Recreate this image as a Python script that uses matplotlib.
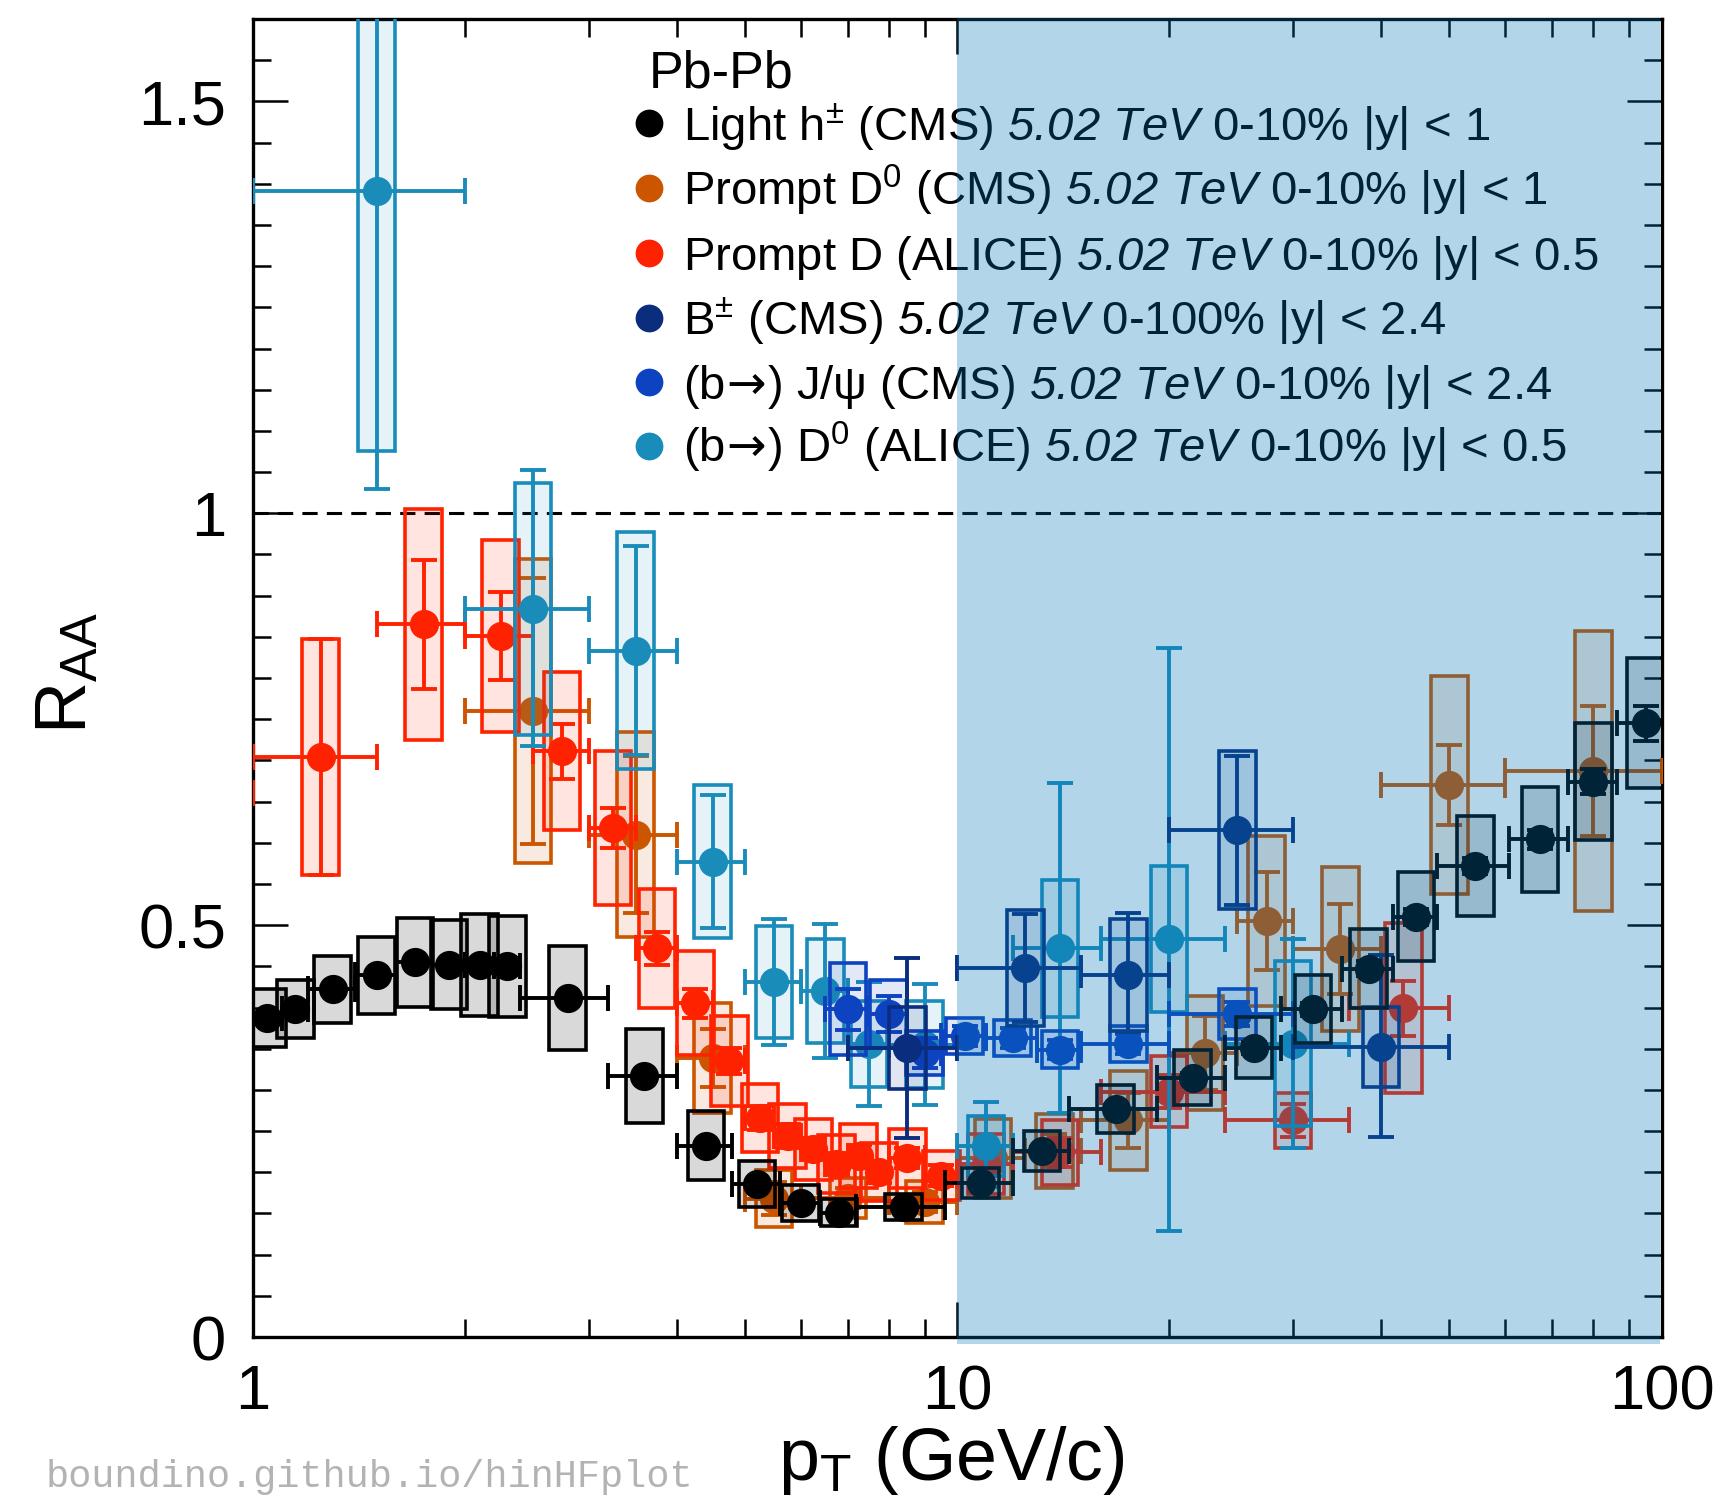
import numpy as np
import matplotlib
matplotlib.use("Agg")
import matplotlib.pyplot as plt
from matplotlib.patches import Rectangle
from matplotlib.colors import to_rgba
from matplotlib.ticker import FixedLocator, FixedFormatter, NullFormatter, MultipleLocator

plt.rcParams['font.family'] = ['Liberation Sans', 'DejaVu Sans']
plt.rcParams['mathtext.fontset'] = 'custom'
plt.rcParams['mathtext.rm'] = 'Liberation Sans'
plt.rcParams['mathtext.it'] = 'Liberation Sans:italic'
plt.rcParams['mathtext.sf'] = 'Liberation Sans:italic'
plt.rcParams['mathtext.bf'] = 'DejaVu Sans'  # only used for the arrow glyph

# Light h+- (CMS) 0-10%
h_edges = [1.0, 1.1, 1.2, 1.4, 1.6, 1.8, 2.0, 2.2, 2.4, 3.2, 4.0, 4.8, 5.6, 6.4, 7.2, 9.6,
           12.0, 14.4, 19.2, 24.0, 28.8, 35.2, 41.6, 48.0, 60.8, 73.6, 86.4, 103.6]
h_raa = [0.387, 0.398, 0.422, 0.439, 0.455, 0.452, 0.452, 0.450, 0.412, 0.317, 0.232, 0.186,
         0.163, 0.151, 0.158, 0.187, 0.226, 0.277, 0.315, 0.351, 0.398, 0.447, 0.510, 0.572,
         0.604, 0.674, 0.745]
h_stat = [0.003, 0.003, 0.003, 0.003, 0.003, 0.003, 0.003, 0.003, 0.003, 0.003, 0.003, 0.003,
          0.003, 0.003, 0.003, 0.004, 0.005, 0.005, 0.006, 0.007, 0.008, 0.009, 0.010, 0.010,
          0.012, 0.015, 0.021]
h_syst = [0.035, 0.035, 0.041, 0.047, 0.054, 0.054, 0.062, 0.061, 0.063, 0.057, 0.042, 0.028,
          0.022, 0.016, 0.016, 0.018, 0.024, 0.029, 0.033, 0.037, 0.041, 0.048, 0.054, 0.061,
          0.064, 0.071, 0.079]

# Prompt D0 (CMS)
d0_edges = [2, 3, 4, 5, 6, 8, 10, 12.5, 15, 20, 25, 30, 40, 60, 100]
d0_raa = [0.760, 0.610, 0.339, 0.168, 0.169, 0.164, 0.217, 0.226, 0.263, 0.345, 0.505, 0.471, 0.670, 0.687]
d0_stat = [0.161, 0.095, 0.035, 0.020, 0.012, 0.012, 0.015, 0.020, 0.033, 0.045, 0.060, 0.055, 0.049, 0.079]
d0_syst = [0.184, 0.125, 0.067, 0.035, 0.024, 0.025, 0.048, 0.045, 0.060, 0.069, 0.103, 0.100, 0.132, 0.170]

# Prompt D (ALICE)
da_edges = [0.5, 1, 1.5, 2, 2.5, 3, 3.5, 4, 4.5, 5, 5.5, 6, 6.5, 7, 7.5, 8, 9, 10, 12, 16, 24, 36, 50]
da_raa = [0.660, 0.704, 0.865, 0.851, 0.711, 0.618, 0.472, 0.405, 0.335, 0.266, 0.244, 0.228,
          0.210, 0.220, 0.200, 0.217, 0.196, 0.210, 0.224, 0.298, 0.263, 0.399]
da_stat = [0.140, 0.143, 0.078, 0.053, 0.033, 0.024, 0.020, 0.018, 0.016, 0.015, 0.014, 0.013,
           0.013, 0.013, 0.013, 0.012, 0.013, 0.015, 0.018, 0.020, 0.020, 0.033]
da_syst = [0.140, 0.143, 0.140, 0.117, 0.096, 0.093, 0.072, 0.063, 0.055, 0.041, 0.039, 0.037,
           0.035, 0.039, 0.035, 0.036, 0.030, 0.037, 0.040, 0.043, 0.033, 0.103]

# B+- (CMS) 0-100%
b_edges = [7, 10, 15, 20, 30, 50]
b_raa = [0.351, 0.448, 0.440, 0.615, 0.352]
b_stat_lo = [0.110, 0.065, 0.070, 0.090, 0.109]
b_stat_hi = [0.109, 0.065, 0.075, 0.090, 0.112]
b_syst = [0.050, 0.070, 0.068, 0.096, 0.049]

# (b->) J/psi (CMS)
j_edges = [6.5, 7.5, 8.5, 9.5, 11, 13, 15, 20, 30]
j_raa = [0.398, 0.392, 0.345, 0.365, 0.363, 0.349, 0.356, 0.392]
j_stat = [0.025, 0.022, 0.018, 0.012, 0.012, 0.012, 0.012, 0.015]
j_syst = [0.056, 0.041, 0.027, 0.022, 0.022, 0.022, 0.022, 0.030]

# (b->) D0 (ALICE)
c_edges = [1, 2, 3, 4, 5, 6, 7, 8, 10, 12, 16, 24, 36]
c_raa = [1.391, 0.884, 0.833, 0.577, 0.431, 0.420, 0.356, 0.355, 0.232, 0.472, 0.483, 0.356]
c_stat_lo = [0.362, 0.167, 0.127, 0.081, 0.077, 0.081, 0.075, 0.073, 0.050, 0.200, 0.354, 0.127]
c_stat_hi = [0.362, 0.168, 0.127, 0.081, 0.077, 0.081, 0.075, 0.073, 0.053, 0.200, 0.354, 0.127]
c_syst = [0.315, 0.153, 0.144, 0.093, 0.068, 0.063, 0.052, 0.053, 0.036, 0.083, 0.089, 0.100]

legend_labels = [
    r"Light $\mathrm{h}^{\pm}$ (CMS) $\mathsf{5.02\ TeV}$ 0-10% |y| < 1",
    r"Prompt $\mathrm{D}^{0}$ (CMS) $\mathsf{5.02\ TeV}$ 0-10% |y| < 1",
    r"Prompt D (ALICE) $\mathsf{5.02\ TeV}$ 0-10% |y| < 0.5",
    r"$\mathrm{B}^{\pm}$ (CMS) $\mathsf{5.02\ TeV}$ 0-100% |y| < 2.4",
    r"(b$\!\mathbf{\rightarrow}\!$) J/ψ (CMS) $\mathsf{5.02\ TeV}$ 0-10% |y| < 2.4",
    r"(b$\!\mathbf{\rightarrow}\!$) $\mathrm{D}^{0}$ (ALICE) $\mathsf{5.02\ TeV}$ 0-10% |y| < 0.5",
]

C_BLACK = '#000000'
C_BROWN = '#cc5500'
C_RED = '#ff2200'
C_NAVY = '#0b2d7e'
C_BLUE = '#0d42c0'
C_CYAN = '#1a8cba'

BOX_HALF = 10 ** 0.026  # systematic box half width (log scale)
MS = 20


def draw_series(ax, edges, raa, stat_lo, stat_hi, syst, color, z, box_alpha=0.12):
    edges = np.asarray(edges, dtype=float)
    pt = 0.5 * (edges[:-1] + edges[1:])
    for x, y, s in zip(pt, raa, syst):
        ax.add_patch(Rectangle((x / BOX_HALF, y - s), x * BOX_HALF - x / BOX_HALF, 2 * s,
                               facecolor=to_rgba(color, box_alpha), edgecolor=color,
                               lw=2.6, zorder=z))
    ax.errorbar(pt, raa, xerr=[pt - edges[:-1], edges[1:] - pt], yerr=[stat_lo, stat_hi],
                fmt='o', color=color, mec=color, ms=MS, elinewidth=2.8,
                capsize=9.5, capthick=2.8, zorder=z + 0.5)


fig = plt.figure(figsize=(17.25, 15.02), dpi=100)
ax = fig.add_axes([0.14638, 0.10985, 0.81681, 0.87750])

ax.axhline(1.0, color='black', lw=2.2, dashes=(5.0, 3.0), zorder=1)

draw_series(ax, d0_edges, d0_raa, d0_stat, d0_stat, d0_syst, C_BROWN, 3)
draw_series(ax, da_edges, da_raa, da_stat, da_stat, da_syst, C_RED, 4)
draw_series(ax, c_edges, c_raa, c_stat_lo, c_stat_hi, c_syst, C_CYAN, 5, box_alpha=0.11)
draw_series(ax, j_edges, j_raa, j_stat, j_stat, j_syst, C_BLUE, 6)
draw_series(ax, b_edges, b_raa, b_stat_lo, b_stat_hi, b_syst, C_NAVY, 7)
draw_series(ax, h_edges, h_raa, h_stat, h_stat, h_syst, C_BLACK, 8, box_alpha=0.15)

ax.set_xscale('log')
ax.set_xlim(1, 100)
ax.set_ylim(0, 1.6)
ax.xaxis.set_major_locator(FixedLocator([1, 10, 100]))
ax.xaxis.set_major_formatter(FixedFormatter(['1', '10', '100']))
ax.xaxis.set_minor_locator(FixedLocator([2, 3, 4, 5, 6, 7, 8, 9, 20, 30, 40, 50, 60, 70, 80, 90]))
ax.xaxis.set_minor_formatter(NullFormatter())
ax.yaxis.set_major_locator(FixedLocator([0, 0.5, 1, 1.5]))
ax.yaxis.set_major_formatter(FixedFormatter(['0', '0.5', '1', '1.5']))
ax.yaxis.set_minor_locator(MultipleLocator(0.05))
ax.tick_params(which='both', direction='in', top=True, right=True, width=1.8)
ax.tick_params(which='major', length=25, labelsize=45.5, pad=19)
ax.tick_params(which='minor', length=13)
for sp in ax.spines.values():
    sp.set_linewidth(2.4)

# legend block
ax.text(0.2814, 0.9477, "Pb-Pb", transform=ax.transAxes, fontsize=37.5, va='baseline', zorder=9)
leg_colors = [C_BLACK, C_BROWN, C_RED, C_NAVY, C_BLUE, C_CYAN]
leg_y = [0.9209, 0.8717, 0.8225, 0.7732, 0.7248, 0.6764]
for lab, col, yy in zip(legend_labels, leg_colors, leg_y):
    ax.plot([0.2814], [yy], 'o', color=col, ms=MS, mew=0, transform=ax.transAxes,
            clip_on=False, zorder=9)
    ax.text(0.3056, yy - 0.0128, lab, transform=ax.transAxes, fontsize=34,
            va='baseline', ha='left', zorder=9)

# shaded high-pT band drawn over everything
ax.add_patch(Rectangle((10, -0.008), 99.45 - 10, 1.6 + 0.008 + 0.001, facecolor=(0.0, 0.46, 0.72),
                       alpha=0.3, lw=0, zorder=20, clip_on=False))

fig.text(0.5516, 0.0146, r"$\mathrm{p}_{\mathrm{T}}$ (GeV/c)", fontsize=53, ha='center', va='baseline')
fig.text(0.0393, 0.552, r"$\mathrm{R}_{\mathrm{AA}}$", fontsize=52, rotation=90, ha='center', va='center')
fig.text(0.0267, 0.010, "boundino.github.io/hinHFplot", family='Liberation Mono',
         fontsize=27.8, color='#b3b3b3', ha='left', va='baseline')

fig.savefig('out.png', dpi=100)
